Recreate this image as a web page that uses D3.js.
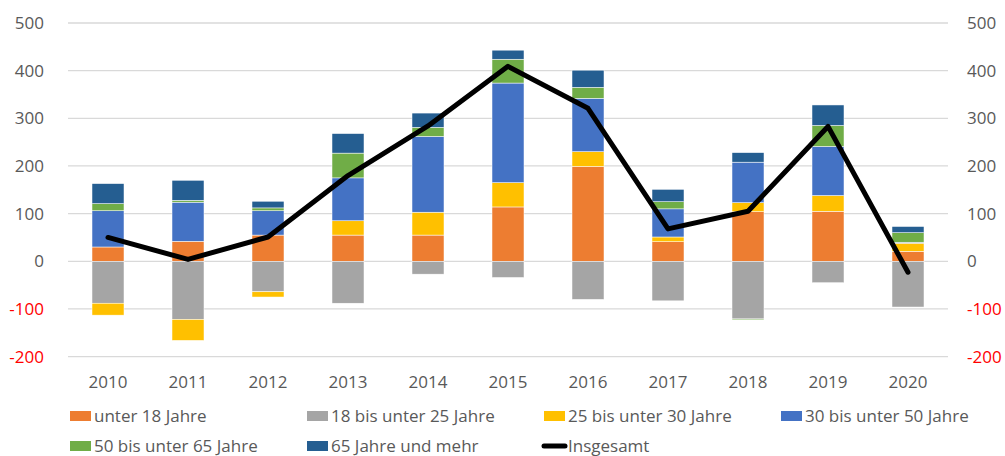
<!DOCTYPE html>
<html>
<head>
<meta charset="utf-8">
<script src="https://cdn.jsdelivr.net/npm/d3@7"></script>
<style>
  body { margin: 0; background: #fff; }
  text { font-family: "Open Sans", "Noto Sans", sans-serif; }
</style>
</head>
<body>
<div id="chart"></div>
<script>
const years = ["2010", "2011", "2012", "2013", "2014", "2015", "2016", "2017", "2018", "2019", "2020"];
const unter18 = [30, 42, 55, 55, 55, 114, 199, 41, 104, 105, 21];
const von18bis25 = [-88, -122, -64, -88, -27, -34, -80, -83, -121, -45, -96];
const von25bis30 = [-25, -44, -11, 30, 48, 51, 31, 10, 19, 33, 17];
const von30bis50 = [76, 82, 51, 90, 159, 209, 112, 59, 85, 103, 2];
const von50bis65 = [15, 4, 6, 52, 19, 50, 23, 15, -2, 44, 20];
const ab65 = [42, 42, 14, 41, 30, 19, 36, 26, 20, 43, 13];
const insgesamt = [50, 4, 51, 180, 284, 409, 321, 68, 105, 283, -23];
const yTicks = [-200, -100, 0, 100, 200, 300, 400, 500];

const seriesNames = ["unter 18 Jahre", "18 bis unter 25 Jahre", "25 bis unter 30 Jahre",
  "30 bis unter 50 Jahre", "50 bis unter 65 Jahre", "65 Jahre und mehr"];
const seriesValues = [unter18, von18bis25, von25bis30, von30bis50, von50bis65, ab65];
const colors = ["#ED7D31", "#A5A5A5", "#FFC000", "#4472C4", "#70AD47", "#255E91"];

const width = 1005;
const height = 456;
const plot = { left: 68, right: 948, top: 23, bottom: 356.6 };

// rows for d3.stack
const rows = years.map((y, i) => {
  const r = { year: y };
  seriesNames.forEach((s, k) => (r[s] = seriesValues[k][i]));
  return r;
});

const svg = d3
  .select("#chart")
  .append("svg")
  .attr("width", width)
  .attr("height", height);

const xScale = d3
  .scaleBand()
  .domain(years)
  .range([plot.left, plot.right])
  .paddingInner(0.6)
  .paddingOuter(0.3);

const yScale = d3.scaleLinear().domain([-200, 500]).range([plot.bottom, plot.top]);

// gridlines
svg
  .selectAll(".grid")
  .data(yTicks)
  .enter()
  .append("line")
  .attr("x1", plot.left)
  .attr("x2", plot.right)
  .attr("y1", (d) => yScale(d))
  .attr("y2", (d) => yScale(d))
  .attr("stroke", "#d9d9d9")
  .attr("stroke-width", 1.3);

// tick labels, both sides
const tickColor = (d) => (d < 0 ? "#ff0000" : "#595959");
svg
  .selectAll(".ylabel-left")
  .data(yTicks)
  .enter()
  .append("text")
  .attr("x", 44)
  .attr("y", (d) => yScale(d))
  .attr("dy", "0.36em")
  .attr("text-anchor", "end")
  .style("font-size", "17px")
  .style("fill", tickColor)
  .text((d) => d);

svg
  .selectAll(".ylabel-right")
  .data(yTicks)
  .enter()
  .append("text")
  .attr("x", 967)
  .attr("y", (d) => yScale(d))
  .attr("dy", "0.36em")
  .attr("text-anchor", "start")
  .style("font-size", "17px")
  .style("fill", tickColor)
  .text((d) => d);

// stacked bars
const stack = d3.stack().keys(seriesNames).offset(d3.stackOffsetDiverging);
const stacked = stack(rows);

svg
  .selectAll(".series")
  .data(stacked)
  .enter()
  .append("g")
  .attr("fill", (d, i) => colors[i])
  .selectAll("rect")
  .data((d) => d)
  .enter()
  .append("rect")
  .attr("x", (d) => xScale(d.data.year))
  .attr("width", xScale.bandwidth())
  .attr("y", (d) => yScale(Math.max(d[0], d[1])))
  .attr("height", (d) => Math.abs(yScale(d[0]) - yScale(d[1])))
  .attr("stroke", "#fff")
  .attr("stroke-width", 0.5);

// total line
const line = d3
  .line()
  .x((d, i) => xScale(years[i]) + xScale.bandwidth() / 2)
  .y((d) => yScale(d));

svg
  .append("path")
  .datum(insgesamt)
  .attr("fill", "none")
  .attr("stroke", "#000")
  .attr("stroke-width", 5)
  .attr("stroke-linejoin", "round")
  .attr("stroke-linecap", "round")
  .attr("d", line);

// x labels
svg
  .selectAll(".xlabel")
  .data(years)
  .enter()
  .append("text")
  .attr("x", (d) => xScale(d) + xScale.bandwidth() / 2)
  .attr("y", 388)
  .attr("text-anchor", "middle")
  .style("font-size", "17px")
  .style("fill", "#595959")
  .text((d) => d);

// legend
const legendPos = [
  { x: 70, y: 416 }, { x: 307, y: 416 }, { x: 544, y: 416 }, { x: 781, y: 416 },
  { x: 70, y: 446 }, { x: 307, y: 446 }
];

const legend = svg
  .selectAll(".legend")
  .data(seriesNames)
  .enter()
  .append("g")
  .attr("transform", (d, i) => `translate(${legendPos[i].x},${legendPos[i].y})`);

legend
  .append("rect")
  .attr("x", 0)
  .attr("y", -5)
  .attr("width", 21)
  .attr("height", 10)
  .attr("fill", (d, i) => colors[i]);

legend
  .append("text")
  .attr("x", 24)
  .attr("y", 0)
  .attr("dy", "0.36em")
  .style("font-size", "17px")
  .style("fill", "#595959")
  .text((d) => d);

const lineLegend = svg.append("g").attr("transform", "translate(542,446)");
lineLegend
  .append("line")
  .attr("x1", 2)
  .attr("x2", 23)
  .attr("stroke", "#000")
  .attr("stroke-width", 5)
  .attr("stroke-linecap", "round");
lineLegend
  .append("text")
  .attr("x", 26)
  .attr("dy", "0.36em")
  .style("font-size", "17px")
  .style("fill", "#595959")
  .text("Insgesamt");
</script>
</body>
</html>
